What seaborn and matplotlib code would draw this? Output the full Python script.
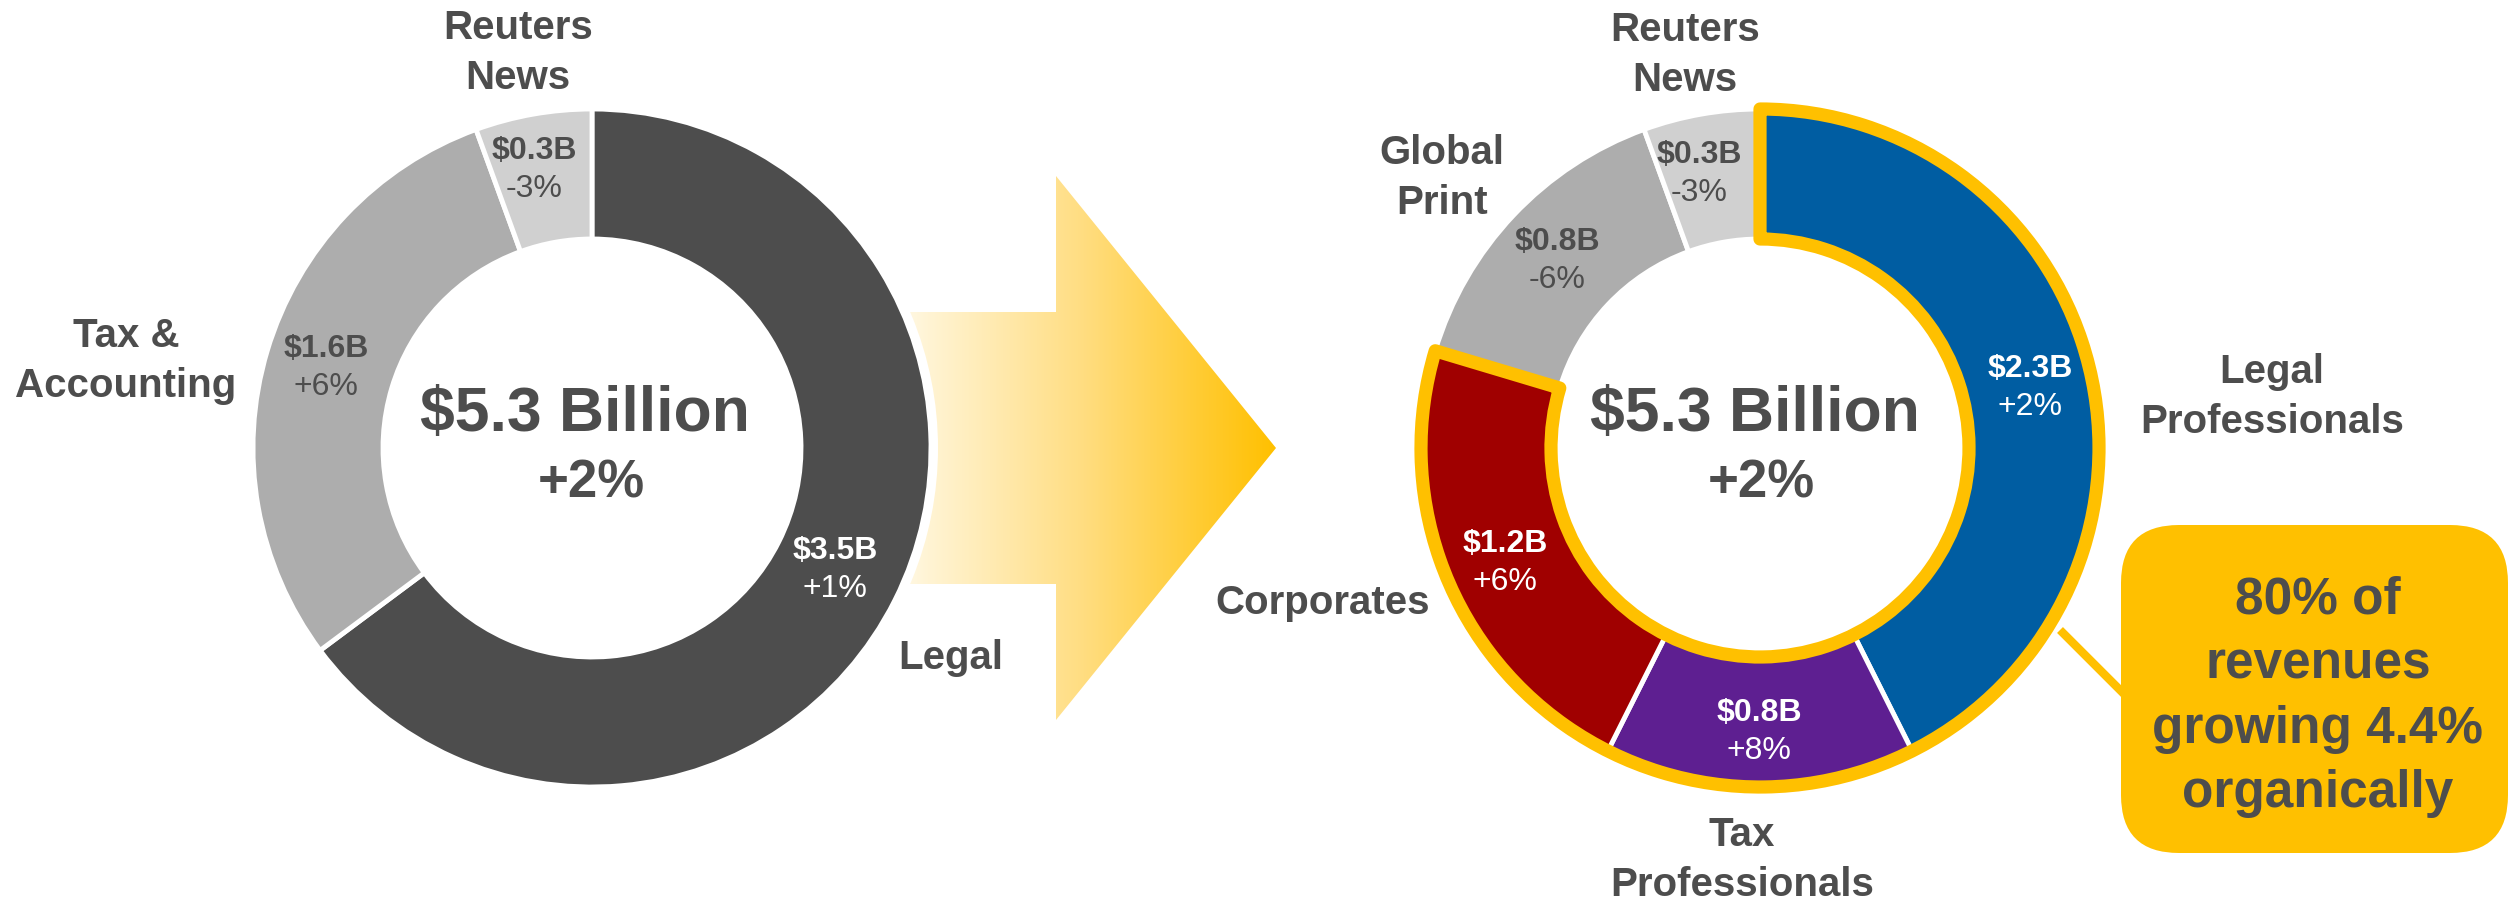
import numpy as np
import matplotlib
matplotlib.use("Agg")
import matplotlib.pyplot as plt
import seaborn as sns
from matplotlib.patches import Polygon, FancyBboxPatch
from matplotlib.colors import LinearSegmentedColormap

sns.set_theme(style="white")
plt.rcParams['font.family'] = ['Liberation Sans', 'DejaVu Sans']

# 데이터
left_names = ['Legal', 'Tax &\nAccounting', 'Reuters\nNews']
left_values = [3.5, 1.6, 0.3]
left_growth = ['+1%', '+6%', '-3%']
left_colors = ['#4D4D4D', '#ADADAD', '#D0D0D0']

right_names = ['Legal\nProfessionals', 'Tax\nProfessionals', 'Corporates', 'Global\nPrint', 'Reuters\nNews']
right_values = [2.3, 0.8, 1.2, 0.8, 0.3]
right_growth = ['+2%', '+8%', '+6%', '-6%', '-3%']
right_colors = ['#005DA2', '#5E1F91', '#A00000', '#ADADAD', '#D0D0D0']
highlight = [True, True, True, False, False]

total_label = '$5.3 Billion'
total_growth = '+2%'
callout = '80% of\nrevenues\ngrowing 4.4%\norganically'

W, H = 2509, 905
DARK = '#4D4D4D'
GOLD = '#FFC000'
R_OUT, R_W = 339, 130


def Y(y):
    # 위에서부터 잰 픽셀 -> 데이터 좌표
    return H - y


fig = plt.figure(figsize=(W / 100, H / 100), dpi=100)
ax = fig.add_axes([0, 0, 1, 1])

# 화살표 (그라데이션, 왼쪽 도넛 뒤에서 시작)
arrow_pts = [(860, Y(312)), (1056, Y(312)), (1056, Y(176)), (1276, Y(448)),
             (1056, Y(720)), (1056, Y(584)), (860, Y(584))]
arrow = Polygon(arrow_pts, closed=True, facecolor='none', edgecolor='none')
ax.add_patch(arrow)
cmap = LinearSegmentedColormap.from_list('arr', [(0, '#FFFDF5'), (0.12, '#FFF4D4'),
                                                 (0.5, '#FFDE84'), (1, GOLD)])
grad = np.linspace(0, 1, 256).reshape(1, -1)
img = ax.imshow(grad, cmap=cmap, extent=(880, 1276, Y(720), Y(176)), aspect='auto', zorder=1)
img.set_clip_path(arrow)

wp = dict(width=R_W, edgecolor='white', linewidth=3.5)

# 왼쪽 도넛 (흰 테두리로 화살표와 간격)
ax.pie([sum(left_values)], colors=['white'], radius=R_OUT + 7, center=(592, Y(448)),
       wedgeprops=dict(width=R_W + 14, edgecolor='none'))
ax.pie(left_values, colors=left_colors, startangle=90, counterclock=False,
       radius=R_OUT, center=(592, Y(448)), wedgeprops=wp)

# 오른쪽 도넛
ax.pie(right_values, colors=right_colors, startangle=90, counterclock=False,
       radius=R_OUT, center=(1760, Y(448)), wedgeprops=wp)

# 강조 테두리
hl_sum = sum(v for v, h in zip(right_values, highlight) if h)
rest_sum = sum(v for v, h in zip(right_values, highlight) if not h)
wedges, _ = ax.pie([hl_sum, rest_sum], startangle=90, counterclock=False,
                   radius=R_OUT, center=(1760, Y(448)),
                   wedgeprops=dict(width=R_W, linewidth=9.5))
wedges[0].set_facecolor('none')
wedges[0].set_edgecolor(GOLD)
wedges[0].set_joinstyle('round')
wedges[1].set_visible(False)

# 콜아웃
ax.plot([2060, 2130], [Y(630), Y(700)], color=GOLD, lw=6, solid_capstyle='butt', zorder=3)
box = FancyBboxPatch((2121, Y(853)), 387, 328, boxstyle='round,pad=0,rounding_size=58',
                     facecolor=GOLD, edgecolor='none', zorder=4)
ax.add_patch(box)
ax.text(2318, Y(697), callout, ha='center', va='center', fontsize=37, fontweight='bold',
        color=DARK, linespacing=1.41, zorder=5)

# 중앙 텍스트
for cx in (585, 1755):
    ax.text(cx, Y(414), total_label, ha='center', va='center', fontsize=45,
            fontweight='bold', color=DARK, zorder=5)
    ax.text(cx + 6, Y(484), total_growth, ha='center', va='center', fontsize=38,
            fontweight='bold', color=DARK, zorder=5)

# 이름 라벨
left_name_pos = [(951, 658), (126, 361), (518, 53)]
right_name_pos = [(2272, 397), (1742, 860), (1323, 603), (1442, 178), (1685, 55)]
for names, pos in ((left_names, left_name_pos), (right_names, right_name_pos)):
    for n, (x, y) in zip(names, pos):
        ax.text(x, Y(y), n, ha='center', va='center', fontsize=29, fontweight='bold',
                color=DARK, linespacing=1.38, zorder=5)

# 값 라벨
left_val_pos = [(835, 551), (326, 349), (534, 151)]
left_val_col = ['white', DARK, DARK]
right_val_pos = [(2030, 369), (1759, 713), (1505, 544), (1557, 242), (1699, 155)]
right_val_col = ['white', 'white', 'white', DARK, DARK]
for vals, grow, pos, cols in ((left_values, left_growth, left_val_pos, left_val_col),
                              (right_values, right_growth, right_val_pos, right_val_col)):
    for v, g, (x, y), c in zip(vals, grow, pos, cols):
        ax.text(x, Y(y), f'${v:.1f}B', ha='center', va='center', fontsize=23,
                fontweight='bold', color=c, zorder=5)
        ax.text(x, Y(y + 38), g, ha='center', va='center', fontsize=23,
                color=c, zorder=5)

ax.set_xlim(0, W)
ax.set_ylim(0, H)
ax.set_aspect('equal')
ax.axis('off')

plt.savefig('out.png', dpi=100)
